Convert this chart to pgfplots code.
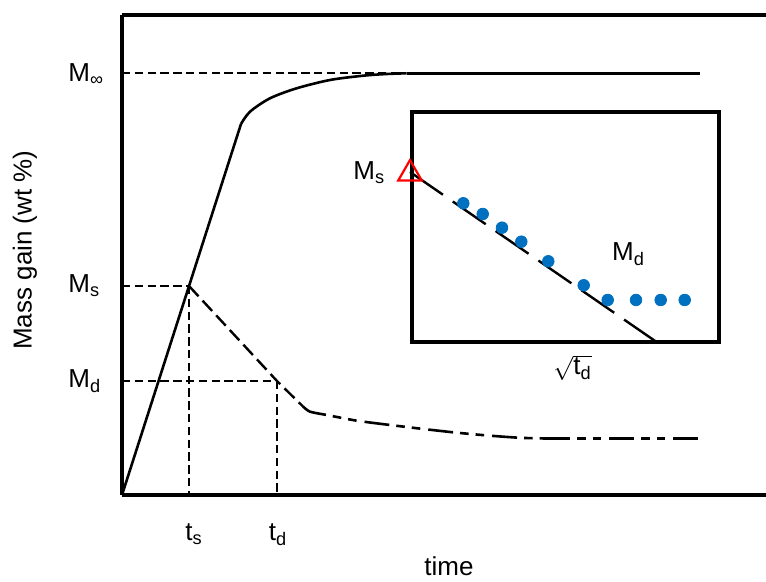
\documentclass[border=0pt]{standalone}
\usepackage{pgfplots}
\pgfplotsset{compat=1.18}
\usepackage{fontspec}
\setmainfont{Liberation Sans}
\definecolor{dotblue}{RGB}{0,112,192}
\tikzset{lab/.style={inner sep=0pt}}
\begin{document}
\fontsize{13}{15}\selectfont
\begin{tikzpicture}
\path[use as bounding box] (-61pt,-43.5pt) rectangle (322pt,247.5pt);
\begin{axis}[
  scale only axis, width=322pt, height=240pt,
  xmin=122, xmax=766, ymin=0, ymax=480,
  axis x line*=box, axis y line*=left,
  axis line style={line width=2.2pt},
  xtick=\empty, ytick=\empty,
  clip=false,
  refline/.style={black, line width=1.2pt, dash pattern=on 4.2pt off 2.2pt},
]
% reference lines
\addplot[refline] coordinates {(122,421.7)(405,421.7)};
\addplot[refline] coordinates {(122,209)(189,209)};
\addplot[refline] coordinates {(189,209)(189,0)};
\addplot[refline] coordinates {(122,114)(277,114)};
\addplot[refline] coordinates {(277,114)(277,0)};
% sorption curve
\addplot[black, line width=1.3pt] coordinates {(122,0)(241,371)};
\addplot[black, line width=1.3pt, smooth, tension=0.5] coordinates {(241,371)(250,383.3)(270,396.7)(296.7,406.7)(330,415)(363.3,419.3)(386.7,421)(406.7,421.7)};
\addplot[black, line width=1.3pt] coordinates {(406.7,421.7)(700,421.7)};
% desorption
\addplot[black, line width=1.2pt, dash pattern=on 7pt off 3pt] coordinates {(189,209)(277,114)(303,88.5)};
\addplot[black, line width=1.3pt, smooth, tension=0.4, dash pattern=on 12.5pt off 3.5pt on 4.3pt off 3.5pt on 4.3pt off 4pt] coordinates {(303,88.5)(310,83.3)(326.7,80)(356.7,74.3)(390,70)(423.3,66)(456.7,62.3)(490,59.3)(520,57.2)(545,56.5)};
\addplot[black, line width=1.3pt, dash pattern=on 12.5pt off 3.5pt on 4.3pt off 3.5pt on 4.3pt off 4pt] coordinates {(545,56.5)(700,56.5)};
% inset
\addplot[black, line width=2pt] coordinates {(411.5,152.7)(719,152.7)(719,382.7)(411.5,382.7)} -- cycle;
\addplot[black, line width=1.2pt, dash pattern=on 20pt off 6pt] coordinates {(410,323)(657,152.7)};
\addplot[only marks, mark=*, mark size=2.9pt, color=dotblue, mark options={draw=dotblue, fill=dotblue}] coordinates {
(463.3,291.7)(482.7,281)(502,267.3)(521.3,253.3)(548.3,233.7)(583.7,209.7)(607.7,195)(636,195)(660.7,195)(684.7,195)};
\addplot[only marks, mark=triangle, mark size=6.8pt, color=red, mark options={line width=1.1pt}] coordinates {(410,321.3)};
% labels
\node[lab, anchor=base west] at (axis cs:68,413) {M\textsubscript{∞}};
\node[lab, anchor=base west] at (axis cs:68,202) {M\textsubscript{s}};
\node[lab, anchor=base west] at (axis cs:68,107) {M\textsubscript{d}};
\node[lab, anchor=base] at (axis cs:194,-46) {t\textsubscript{s}};
\node[lab, anchor=base] at (axis cs:278,-46) {t\textsubscript{d}};
\node[lab, anchor=base] at (axis cs:449,-81) {time};
\node[lab, rotate=90] at (axis cs:25,245) {Mass gain (wt \%)};
\node[lab, anchor=base west] at (axis cs:353,315) {M\textsubscript{s}};
\node[lab, anchor=base west] at (axis cs:611.7,234.3) {M\textsubscript{d}};
\node[lab, anchor=base west] at (axis cs:553,120) {$\sqrt{\mbox{t\textsubscript{d}}}$};
\end{axis}
\end{tikzpicture}
\end{document}
